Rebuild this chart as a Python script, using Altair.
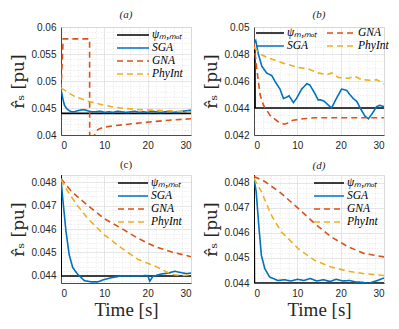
import altair as alt
import pandas as pd

SERIES = ["PSI", "SGA", "GNA", "PhyInt"]
LABELS = {"PSI": "ψₘ,ₘₒₜ", "SGA": "SGA", "GNA": "GNA", "PhyInt": "PhyInt"}
COLORS = {"PSI": "#000000", "SGA": "#0072BD", "GNA": "#D95319", "PhyInt": "#EDB120"}
DASHES = {"PSI": [1, 0], "SGA": [1, 0], "GNA": [6, 4], "PhyInt": [6, 4]}

# ---- panel (a) ----
A_PSI = [(0, 0.0485), (0.05, 0.0440), (30, 0.0440)]
A_SGA = [(0, 0.0485), (0.4, 0.0468), (0.8, 0.0455), (1.3, 0.0449), (1.9, 0.0445), (2.5, 0.0443),
         (3.1, 0.0443), (3.8, 0.0445), (4.5, 0.0446), (5.2, 0.0447), (5.8, 0.0446), (6.5, 0.0444),
         (7.2, 0.0443), (8, 0.0443), (9, 0.0444), (10, 0.0442), (11, 0.0443), (12, 0.0442),
         (13, 0.0444), (14, 0.0443), (15, 0.0442), (16, 0.0443), (17, 0.0444), (18, 0.0442),
         (19, 0.0443), (20, 0.0442), (21, 0.0444), (22, 0.0443), (23, 0.0442), (24, 0.0443),
         (25, 0.0444), (26, 0.0442), (27, 0.0443), (28, 0.0444), (29, 0.0445), (30, 0.0446)]
A_GNA = [(0, 0.0484), (0.5, 0.0578), (6.6, 0.0578), (6.62, 0.0362), (7.75, 0.0400), (8.5, 0.0410),
         (9.6, 0.0414), (12, 0.0417), (16.6, 0.0421), (22, 0.04253), (26, 0.0428), (30, 0.0430)]
A_PHY = [(0, 0.0487), (3, 0.0472), (6, 0.0463), (9, 0.0457), (12, 0.0452), (15, 0.0449),
         (18, 0.0447), (21, 0.0446), (24, 0.0445), (27, 0.0444), (30, 0.0443)]

# ---- panel (b) ----
B_PSI = [(0, 0.0483), (0.2, 0.0483), (0.25, 0.0440), (30, 0.0440)]
B_SGA = [(0, 0.0488), (0.4, 0.0490), (1, 0.0480), (1.8, 0.0471), (2.9, 0.0466), (4.1, 0.0464),
         (4.8, 0.0460), (6, 0.0454), (6.8, 0.0447), (7.5, 0.0448), (8.1, 0.0449), (8.7, 0.0446),
         (9.1, 0.0444), (9.8, 0.0447), (11, 0.0454), (12.2, 0.0458), (12.9, 0.0457), (14, 0.0451),
         (14.8, 0.0446), (15.4, 0.0446), (16.2, 0.0445), (17.2, 0.0442), (17.9, 0.0440), (19, 0.0447),
         (20.2, 0.0454), (21.4, 0.0453), (22.1, 0.0450), (22.9, 0.0447), (23.7, 0.0445), (24.5, 0.0440),
         (25.6, 0.0434), (26.4, 0.0432), (27.3, 0.0436), (28.3, 0.0441), (29, 0.0442), (30, 0.0441)]
B_GNA = [(0, 0.0488), (0.6, 0.0470), (1.4, 0.0450), (2.2, 0.0442), (3.7, 0.04345), (5.5, 0.0430),
         (7, 0.0428), (8, 0.0429), (9, 0.0431), (11.4, 0.0432), (14.1, 0.04328), (18, 0.04328),
         (30, 0.04328)]
B_PHY = [(0, 0.0485), (1.4, 0.0480), (3.3, 0.0477), (6.4, 0.04736), (10.2, 0.0470), (12.5, 0.0469),
         (14.8, 0.0466), (16.8, 0.04646), (17.9, 0.0466), (19.5, 0.04626), (21.8, 0.0462),
         (23.3, 0.04635), (24.8, 0.0461), (27.2, 0.04605), (28.3, 0.0461), (30, 0.04577)]

# ---- panel (c) ----
C_PSI = [(0, 0.0483), (0.05, 0.0440), (30, 0.0440)]
C_SGA = [(0, 0.0481), (0.4, 0.0473), (1.15, 0.0459), (1.9, 0.0449), (2.7, 0.04436), (3.8, 0.04408),
         (5.4, 0.0438), (6.9, 0.04375), (8.5, 0.04375), (10, 0.04385), (11.5, 0.04392), (13.9, 0.0440),
         (17.7, 0.0440), (20, 0.04402), (20.5, 0.04378), (21.2, 0.04398), (23.1, 0.04408),
         (25, 0.04413), (26.2, 0.0442), (27.5, 0.04415), (29, 0.0441), (30, 0.04412)]
C_GNA = [(0, 0.04815), (2.3, 0.04762), (6.2, 0.0470), (10, 0.04644), (13.9, 0.04603), (17.7, 0.04561),
         (21.6, 0.04526), (25.4, 0.04503), (30, 0.04482)]
C_PHY = [(0, 0.0481), (1.5, 0.04762), (3.8, 0.0470), (6.2, 0.04644), (10, 0.04575), (13.9, 0.0452),
         (17.7, 0.04471), (21.6, 0.04443), (24.6, 0.04415), (26.2, 0.04405), (28, 0.04402), (30, 0.04405)]

# ---- panel (d) ----
D_PSI = [(0, 0.0483), (0.1, 0.0440), (30, 0.0440)]
D_SGA = [(0, 0.04817), (0.5, 0.04764), (1.1, 0.0463), (1.7, 0.0451), (2.5, 0.04457), (3.6, 0.04424),
         (5.5, 0.0441), (7, 0.04413), (8.5, 0.04408), (10, 0.04415), (11.5, 0.04410), (13, 0.04418),
         (14.5, 0.04408), (16, 0.04413), (17.5, 0.04406), (19, 0.04415), (20.5, 0.04408), (22, 0.0441),
         (23.5, 0.04404), (25, 0.04403), (26.5, 0.04398), (27.5, 0.04405), (28.5, 0.0441), (30, 0.0442)]
D_GNA = [(0, 0.04824), (2.5, 0.04804), (6.3, 0.04757), (10.2, 0.04697), (14, 0.04637), (17.8, 0.04584),
         (21.7, 0.04544), (25.5, 0.04517), (30, 0.04504)]
D_PHY = [(0, 0.04817), (1.7, 0.04764), (4, 0.0467), (6.3, 0.04604), (10.2, 0.04537), (14, 0.0449),
         (17.8, 0.04464), (21.7, 0.04447), (25.5, 0.04437), (30, 0.0443)]

X_TICKS = list(range(0, 31, 2))
X_MAJOR = 10

SERIF = "DejaVu Serif"
LSERIF = "Liberation Serif"
SANS = "Liberation Sans"
INK = "#262626"


def frame(rows):
    recs = []
    for key, pts in rows:
        for i, (t, v) in enumerate(pts):
            recs.append({"t": t, "v": v, "s": LABELS[key], "o": SERIES.index(key) * 1000 + i})
    return pd.DataFrame(recs)


def grid_axis(values, major, fmt, **kw):
    test = f"abs(datum.value/{major} - round(datum.value/{major})) < 1e-6"
    return alt.Axis(
        values=values,
        labelExpr=f"({test}) ? datum.label : ''",
        format=fmt,
        grid=True,
        gridColor={"condition": {"test": test, "value": "#d4d4d4"}, "value": "#e6e6e6"},
        gridDash={"condition": {"test": test, "value": [1, 0]}, "value": [1.5, 1.5]},
        gridWidth=0.7,
        ticks=False,
        labelPadding=5,
        labelFont=SANS,
        labelFontSize=10,
        labelColor=INK,
        labelOverlap=False,
        domainColor=INK,
        domainWidth=0.8,
        **kw,
    )


def panel(title, rows, ydom, ystart, ystep, ymajor, ncount, legend_cols,
          symlen, lx, ly, xtitle, title_style="italic", height=108):
    df = frame(rows)
    yvals = [round(ystart + i * ystep, 6) for i in range(ncount)]
    xaxis = grid_axis(X_TICKS, X_MAJOR, "d",
                      title=xtitle if xtitle else None,
                      titleFont=LSERIF, titleFontSize=19, titleFontWeight="normal",
                      titleColor=INK, titlePadding=2)
    yaxis = grid_axis(yvals, ymajor, ".3~f",
                      title="r̂ₛ [pu]", titleFont=SERIF, titleFontSize=17,
                      titleFontWeight="normal", titleColor=INK, titlePadding=3)
    dom = [LABELS[k] for k in SERIES]
    rng_c = [COLORS[k] for k in SERIES]
    rng_d = [DASHES[k] for k in SERIES]
    leg = alt.Legend(
        title=None, orient="none", legendX=lx, legendY=ly, padding=0,
        columns=legend_cols, columnPadding=8, rowPadding=1, clipHeight=12,
        symbolType="M-1,0L1,0", symbolSize=symlen * symlen, symbolStrokeWidth=1.6,
        labelFont=LSERIF, labelFontStyle="italic", labelFontSize=11.5, labelColor="black",
        labelOffset=2,
    )
    ch = alt.Chart(df).mark_line(strokeWidth=1.6, clip=True).encode(
        x=alt.X("t:Q", scale=alt.Scale(domain=[0, 30], nice=False), axis=xaxis),
        y=alt.Y("v:Q", scale=alt.Scale(domain=ydom, nice=False, zero=False), axis=yaxis),
        color=alt.Color("s:N", scale=alt.Scale(domain=dom, range=rng_c), legend=leg),
        strokeDash=alt.StrokeDash("s:N", scale=alt.Scale(domain=dom, range=rng_d), legend=leg),
        order="o:Q",
    ).properties(
        width=130, height=height,
        title=alt.TitleParams(title, font=LSERIF, fontStyle=title_style, fontSize=11,
                              fontWeight="normal", color=INK, offset=2),
    )
    return ch


pa = panel("(a)", [("PSI", A_PSI), ("SGA", A_SGA), ("GNA", A_GNA), ("PhyInt", A_PHY)],
           [0.04, 0.06], 0.04, 0.001, 0.005, 21, 1, 32, 55, 2, None)
pb = panel("(b)", [("PSI", B_PSI), ("SGA", B_SGA), ("GNA", B_GNA), ("PhyInt", B_PHY)],
           [0.042, 0.05], 0.042, 0.0005, 0.002, 17, 2, 28, 1, 0, None)
pc = panel("(c)", [("PSI", C_PSI), ("SGA", C_SGA), ("GNA", C_GNA), ("PhyInt", C_PHY)],
           [0.0437, 0.0483], 0.0438, 0.0002, 0.001, 23, 1, 30, 56, 2, "Time [s]", "normal")
pd_ = panel("(d)", [("PSI", D_PSI), ("SGA", D_SGA), ("GNA", D_GNA), ("PhyInt", D_PHY)],
            [0.044, 0.0483], 0.044, 0.0002, 0.001, 22, 1, 30, 59, 2, "Time [s]")

top = alt.hconcat(pa, pb, spacing=10).resolve_scale(color="independent", strokeDash="independent")
bot = alt.hconcat(pc, pd_, spacing=10).resolve_scale(color="independent", strokeDash="independent")
chart = alt.vconcat(top, bot, spacing=7).resolve_scale(
    color="independent", strokeDash="independent"
).properties(
    padding={"left": 1, "top": 0, "right": 0, "bottom": 0}
).configure_view(stroke=INK, strokeWidth=0.8).configure(background="white")

chart.save("out.html", embed_options={"renderer": "svg", "actions": False})
